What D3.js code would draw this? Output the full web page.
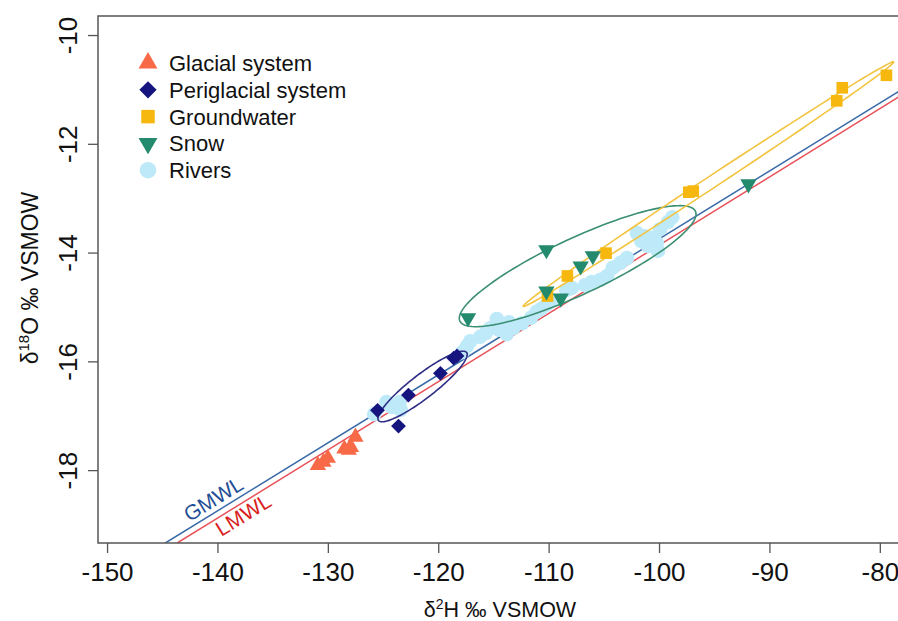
<!DOCTYPE html>
<html>
<head>
<meta charset="utf-8">
<script src="https://cdn.jsdelivr.net/npm/d3@7"></script>
<style>
  body { margin: 0; background: #fff; }
  svg { display: block; font-family: "Liberation Sans", Arial, sans-serif; }
</style>
</head>
<body>
<svg id="chart" width="898" height="621"></svg>
<script>
// isotope values, d2H then d18O (per mil VSMOW)
var glacialH = [-130.9, -130.4, -130.0, -128.5, -128.1, -127.9, -127.5];
var glacialO = [-17.91, -17.85, -17.78, -17.61, -17.63, -17.58, -17.39];

var periglacialH = [-125.5, -123.6, -122.7, -119.8, -118.6, -118.3];
var periglacialO = [-16.90, -17.19, -16.62, -16.22, -15.94, -15.90];

var groundwaterH = [-110.1, -108.3, -104.8, -97.3, -96.9, -83.9, -83.4, -79.4];
var groundwaterO = [-14.80, -14.43, -14.01, -12.89, -12.87, -11.21, -10.97, -10.74];

var snowH = [-117.3, -110.2, -110.2, -108.9, -107.1, -106.0, -91.9];
var snowO = [-15.20, -13.95, -14.71, -14.84, -14.25, -14.06, -12.74];

var riversH = [-125.8, -124.7, -123.5, -123.4, -124.2, -117.8, -117.4, -117.1, -115.7, -115.3,
               -114.7, -114.5, -114.1, -113.8, -113.6, -113.2, -111.6, -111.1, -110.7, -110.2,
               -109.8, -108.4, -107.9, -106.7, -106.1, -105.3, -104.7, -104.2, -103.5, -102.9,
               -102.0, -101.6, -101.3, -101.0, -100.6, -100.2, -100.1, -99.9, -99.2, -98.8,
               -116.2, -112.4];
var riversO = [-16.97, -16.75, -16.75, -16.89, -16.84, -15.83, -15.72, -15.63, -15.48, -15.39,
               -15.22, -15.42, -15.33, -15.50, -15.28, -15.39, -15.20, -15.09, -15.04, -14.96,
               -14.89, -14.69, -14.65, -14.60, -14.54, -14.50, -14.43, -14.28, -14.19, -14.10,
               -13.64, -13.79, -13.70, -13.88, -13.73, -13.82, -13.97, -13.57, -13.44, -13.35,
               -15.55, -15.30];

// meteoric water lines: d2H = slope * d18O + intercept
var gmwl = {slope: 8, intercept: 10};
var lmwl = {slope: 7.97, intercept: 10.5};

// ellipse half axes (d2H, d18O), centred on group mean
var periAxes = [[3.99, 0.625], [0.66, -0.174]];
var snowAxes = [[10.67, 1.01], [1.07, -0.467]];
var gwAxes = [[16.79, 2.249], [0.30, -0.092]];

var xTicks = [-150, -140, -130, -120, -110, -100, -90, -80];
var yTicks = [-18, -16, -14, -12, -10];

var svg = d3.select("#chart");
var mLeft = 98, mTop = 16, mRight = 920, mBottom = 543;

var x = d3.scaleLinear().domain([-150.82, -76.36]).range([mLeft, mRight]);
var y = d3.scaleLinear().domain([-19.34, -9.65]).range([mBottom, mTop]);

svg.append("clipPath").attr("id", "plotclip")
  .append("rect").attr("x", mLeft).attr("y", mTop)
  .attr("width", mRight - mLeft).attr("height", mBottom - mTop);

function zip(h, o) { return h.map(function(d, i) { return {H: d, O: o[i]}; }); }

var plot = svg.append("g").attr("clip-path", "url(#plotclip)");

// water lines
function mwl(p) {
  var o0 = y.domain()[0], o1 = y.domain()[1];
  return [{H: p.slope * o0 + p.intercept, O: o0}, {H: p.slope * o1 + p.intercept, O: o1}];
}
var line = d3.line().x(function(d) { return x(d.H); }).y(function(d) { return y(d.O); });

plot.append("path").datum(mwl(gmwl)).attr("d", line)
  .attr("fill", "none").attr("stroke", "#3a6aa8").attr("stroke-width", 1.5);
plot.append("path").datum(mwl(lmwl)).attr("d", line)
  .attr("fill", "none").attr("stroke", "#e8525a").attr("stroke-width", 1.5);

// line labels
var ang = Math.atan2(y(-10) - y(-11), x(-70) - x(-78)) * 180 / Math.PI;
var gH = -142.3, lH = -140.5;
svg.append("text")
  .attr("transform", "translate(" + x(gH) + "," + y((gH - gmwl.intercept) / gmwl.slope) + ") rotate(" + ang + ")")
  .attr("dy", -5).attr("font-size", 21).attr("fill", "#1f4e96").text("GMWL");
svg.append("text")
  .attr("transform", "translate(" + x(lH) + "," + y((lH - lmwl.intercept) / lmwl.slope) + ") rotate(" + ang + ")")
  .attr("dy", 18).attr("font-size", 21).attr("fill", "#d81e1e").text("LMWL");

// rivers
plot.selectAll(".river").data(zip(riversH, riversO)).enter().append("circle")
  .attr("cx", function(d) { return x(d.H); })
  .attr("cy", function(d) { return y(d.O); })
  .attr("r", 7.3).attr("fill", "#bde9f8");

// ellipses
function ellipse(h, o, axes) {
  var ch = d3.mean(h), co = d3.mean(o);
  return d3.range(0, 361, 3).map(function(a) {
    var t = a * Math.PI / 180;
    return {H: ch + Math.cos(t) * axes[0][0] + Math.sin(t) * axes[1][0],
            O: co + Math.cos(t) * axes[0][1] + Math.sin(t) * axes[1][1]};
  });
}
plot.append("path").datum(ellipse(snowH, snowO, snowAxes)).attr("d", line)
  .attr("fill", "none").attr("stroke", "#3b8f72").attr("stroke-width", 1.6);
plot.append("path").datum(ellipse(groundwaterH, groundwaterO, gwAxes)).attr("d", line)
  .attr("fill", "none").attr("stroke", "#f2c440").attr("stroke-width", 1.6);
plot.append("path").datum(ellipse(periglacialH, periglacialO, periAxes)).attr("d", line)
  .attr("fill", "none").attr("stroke", "#2e2e86").attr("stroke-width", 1.6);

// symbol groups
var groups = [
  {name: "Glacial system", H: glacialH, O: glacialO, color: "#f86a47", type: d3.symbolTriangle, size: 115, rot: 0},
  {name: "Periglacial system", H: periglacialH, O: periglacialO, color: "#16157f", type: d3.symbolSquare, size: 110, rot: 45},
  {name: "Groundwater", H: groundwaterH, O: groundwaterO, color: "#f6b70e", type: d3.symbolSquare, size: 135, rot: 0},
  {name: "Snow", H: snowH, O: snowO, color: "#238a6d", type: d3.symbolTriangle, size: 115, rot: 180},
  {name: "Rivers", H: riversH, O: riversO, color: "#bde9f8", type: d3.symbolCircle, size: 160, rot: 0}
];

groups.slice(0, 4).forEach(function(g) {
  plot.selectAll(null).data(zip(g.H, g.O)).enter().append("path")
    .attr("d", d3.symbol().type(g.type).size(g.size))
    .attr("transform", function(d) { return "translate(" + x(d.H) + "," + y(d.O) + ") rotate(" + g.rot + ")"; })
    .attr("fill", g.color);
});

// frame and axes
svg.append("path")
  .attr("d", "M" + mRight + "," + mTop + "H" + mLeft + "V" + mBottom + "H" + mRight)
  .attr("fill", "none").attr("stroke", "#555").attr("stroke-width", 1.5);

var fmt = function(d) { return String(d); };
var xAxis = svg.append("g").attr("transform", "translate(0," + mBottom + ")")
  .call(d3.axisBottom(x).tickValues(xTicks).tickSize(10).tickPadding(10).tickFormat(fmt));
var yAxis = svg.append("g").attr("transform", "translate(" + mLeft + ",0)")
  .call(d3.axisLeft(y).tickValues(yTicks).tickSize(10).tickPadding(8).tickFormat(fmt));
[xAxis, yAxis].forEach(function(a) {
  a.select(".domain").remove();
  a.selectAll("line").attr("stroke", "#555").attr("stroke-width", 1.3);
  a.selectAll("text").attr("font-size", 26).attr("fill", "#111")
    .attr("font-family", "'Liberation Sans', Arial, sans-serif");
});
yAxis.selectAll(".tick text")
  .attr("x", null).attr("dy", "0.35em").attr("text-anchor", "middle")
  .attr("transform", "translate(-30,0) rotate(-90)");

// axis titles
var xt = svg.append("text").attr("x", 500).attr("y", 617).attr("text-anchor", "middle")
  .attr("font-size", 21.5).attr("fill", "#111");
xt.append("tspan").text("δ");
xt.append("tspan").attr("font-size", 14).attr("dy", -8).text("2");
xt.append("tspan").attr("dy", 8).text("H ‰ VSMOW");

var yt = svg.append("text").attr("transform", "translate(38,278) rotate(-90)").attr("text-anchor", "middle")
  .attr("font-size", 23).attr("fill", "#111");
yt.append("tspan").text("δ");
yt.append("tspan").attr("font-size", 15).attr("dy", -9).text("18");
yt.append("tspan").attr("dy", 9).text("O ‰ VSMOW");

// legend
var leg = svg.append("g").attr("transform", "translate(148,63)");
groups.forEach(function(g, i) {
  var row = leg.append("g").attr("transform", "translate(0," + (i * 26.8) + ")");
  row.append("path").attr("d", d3.symbol().type(g.type).size(g.size * 1.35))
    .attr("transform", "rotate(" + g.rot + ")").attr("fill", g.color);
  row.append("text").attr("x", 21).attr("dy", "0.36em").attr("font-size", 22)
    .attr("fill", "#111").text(g.name);
});
</script>
</body>
</html>
